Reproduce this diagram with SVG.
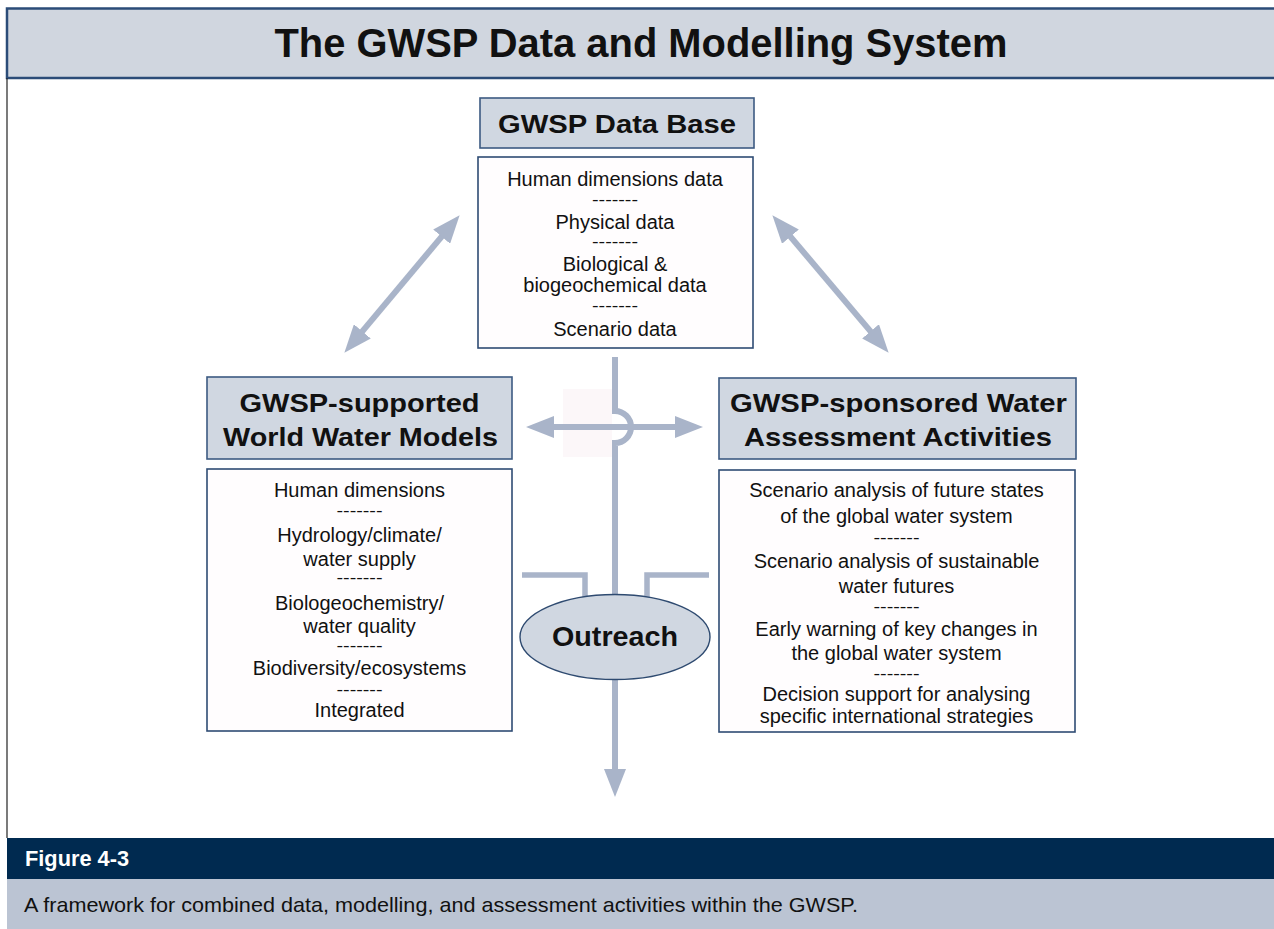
<svg xmlns="http://www.w3.org/2000/svg" width="1274" height="929" viewBox="0 0 1274 929">
<style>
  .hdr { fill: #d0d7e1; stroke: #3c5a82; stroke-width: 1.6; }
  .box { fill: #fffdfe; stroke: #2f4c74; stroke-width: 1.6; }
  .ht { font-family: "Liberation Sans", Arial, sans-serif; font-weight: bold; font-size: 26px; fill: #111; text-anchor: middle; }
  .ct { font-family: "Liberation Sans", Arial, sans-serif; font-size: 20px; fill: #111; text-anchor: middle; }
  .dt { font-family: "Liberation Sans", Arial, sans-serif; font-size: 16px; fill: #111; text-anchor: middle; }
  .con { fill: none; stroke: #a9b4c9; stroke-width: 6; }
  .br { fill: none; stroke: #a9b4c9; stroke-width: 5.5; }
</style>
<defs>
  <marker id="ah" viewBox="0 0 28 22" refX="1" refY="11" markerWidth="28" markerHeight="22" markerUnits="userSpaceOnUse" orient="auto-start-reverse">
    <path d="M0,0 L28,11 L0,22 Z" fill="#a9b4c9"/>
  </marker>
</defs>
<rect x="0" y="0" width="1274" height="929" fill="#ffffff"/>

<g id="title">
  <rect x="7" y="8.5" width="1270" height="69.5" fill="#d0d6df" stroke="#2b4c78" stroke-width="2.5"/>
  <text x="641" y="57" font-family="Liberation Sans, Arial, sans-serif" font-weight="bold" font-size="40" fill="#111" text-anchor="middle" textLength="733" lengthAdjust="spacingAndGlyphs">The GWSP Data and Modelling System</text>
</g>
<line x1="7" y1="78" x2="7" y2="838" stroke="#222" stroke-width="1.2"/>

<g id="connectors">
  <rect x="563" y="389" width="49" height="68" fill="#fcf7f9"/>
  <line class="con" x1="442.3" y1="235.9" x2="361.7" y2="332.1" marker-start="url(#ah)" marker-end="url(#ah)"/>
  <line class="con" x1="789.8" y1="235.9" x2="871.2" y2="332.1" marker-start="url(#ah)" marker-end="url(#ah)"/>
  <line class="con" x1="553" y1="427" x2="676" y2="427" marker-start="url(#ah)" marker-end="url(#ah)"/>
  <path class="con" d="M615,357 V411 A16,16 0 0 1 615,443 V600"/>
  <path class="br" d="M522,575 H585 V600"/>
  <path class="br" d="M709,575 H647 V600"/>
  <line class="con" x1="615" y1="675" x2="615" y2="770" marker-end="url(#ah)"/>
</g>

<g id="database">
  <rect class="hdr" x="480" y="98" width="274" height="50"/>
  <text class="ht" x="617" y="133" textLength="238" lengthAdjust="spacingAndGlyphs">GWSP Data Base</text>
  <rect class="box" x="478" y="157" width="275" height="191"/>
  <text class="ct" x="615" y="186">Human dimensions data</text>
  <text class="dt" x="615" y="204.5" textLength="46" lengthAdjust="spacingAndGlyphs">-------</text>
  <text class="ct" x="615" y="229">Physical data</text>
  <text class="dt" x="615" y="247" textLength="46" lengthAdjust="spacingAndGlyphs">-------</text>
  <text class="ct" x="615" y="271">Biological &amp;</text>
  <text class="ct" x="615" y="292">biogeochemical data</text>
  <text class="dt" x="615" y="311" textLength="46" lengthAdjust="spacingAndGlyphs">-------</text>
  <text class="ct" x="615" y="336">Scenario data</text>
</g>

<g id="models">
  <rect class="hdr" x="207" y="377" width="305" height="82"/>
  <text class="ht" x="359.5" y="411.5" textLength="240" lengthAdjust="spacingAndGlyphs">GWSP-supported</text>
  <text class="ht" x="360.5" y="446" textLength="275" lengthAdjust="spacingAndGlyphs">World Water Models</text>
  <rect class="box" x="207" y="469" width="305" height="262"/>
  <text class="ct" x="359.5" y="497">Human dimensions</text>
  <text class="dt" x="359.5" y="516" textLength="46" lengthAdjust="spacingAndGlyphs">-------</text>
  <text class="ct" x="359.5" y="542">Hydrology/climate/</text>
  <text class="ct" x="359.5" y="566">water supply</text>
  <text class="dt" x="359.5" y="582.5" textLength="46" lengthAdjust="spacingAndGlyphs">-------</text>
  <text class="ct" x="359.5" y="610">Biologeochemistry/</text>
  <text class="ct" x="359.5" y="633">water quality</text>
  <text class="dt" x="359.5" y="651" textLength="46" lengthAdjust="spacingAndGlyphs">-------</text>
  <text class="ct" x="359.5" y="675">Biodiversity/ecosystems</text>
  <text class="dt" x="359.5" y="694.5" textLength="46" lengthAdjust="spacingAndGlyphs">-------</text>
  <text class="ct" x="359.5" y="717">Integrated</text>
</g>

<g id="assessment">
  <rect class="hdr" x="719" y="378" width="357" height="81"/>
  <text class="ht" x="898.5" y="411.5" textLength="337" lengthAdjust="spacingAndGlyphs">GWSP-sponsored Water</text>
  <text class="ht" x="898" y="446" textLength="308" lengthAdjust="spacingAndGlyphs">Assessment Activities</text>
  <rect class="box" x="719" y="470" width="356" height="262"/>
  <text class="ct" x="896.5" y="497">Scenario analysis of future states</text>
  <text class="ct" x="896.5" y="523">of the global water system</text>
  <text class="dt" x="896.5" y="542.5" textLength="46" lengthAdjust="spacingAndGlyphs">-------</text>
  <text class="ct" x="896.5" y="568">Scenario analysis of sustainable</text>
  <text class="ct" x="896.5" y="593">water futures</text>
  <text class="dt" x="896.5" y="612" textLength="46" lengthAdjust="spacingAndGlyphs">-------</text>
  <text class="ct" x="896.5" y="636">Early warning of key changes in</text>
  <text class="ct" x="896.5" y="660">the global water system</text>
  <text class="dt" x="896.5" y="679" textLength="46" lengthAdjust="spacingAndGlyphs">-------</text>
  <text class="ct" x="896.5" y="700.5">Decision support for analysing</text>
  <text class="ct" x="896.5" y="722.5">specific international strategies</text>
</g>

<g id="outreach">
  <ellipse cx="615" cy="637" rx="95" ry="42.5" fill="#d0d7e1" stroke="#2e4a70" stroke-width="1.4"/>
  <text x="615" y="646" font-family="Liberation Sans, Arial, sans-serif" font-weight="bold" font-size="28" fill="#111" text-anchor="middle" textLength="126" lengthAdjust="spacingAndGlyphs">Outreach</text>
</g>

<g id="caption">
  <rect x="7" y="838" width="1267" height="41" fill="#002a50"/>
  <text x="25" y="866" font-family="Liberation Sans, Arial, sans-serif" font-weight="bold" font-size="22" fill="#ffffff" textLength="104" lengthAdjust="spacingAndGlyphs">Figure 4-3</text>
  <rect x="7" y="879" width="1267" height="50" fill="#bbc4d3"/>
  <text x="24" y="912" font-family="Liberation Sans, Arial, sans-serif" font-size="21" fill="#111" textLength="834" lengthAdjust="spacingAndGlyphs">A framework for combined data, modelling, and assessment activities within the GWSP.</text>
</g>
</svg>
